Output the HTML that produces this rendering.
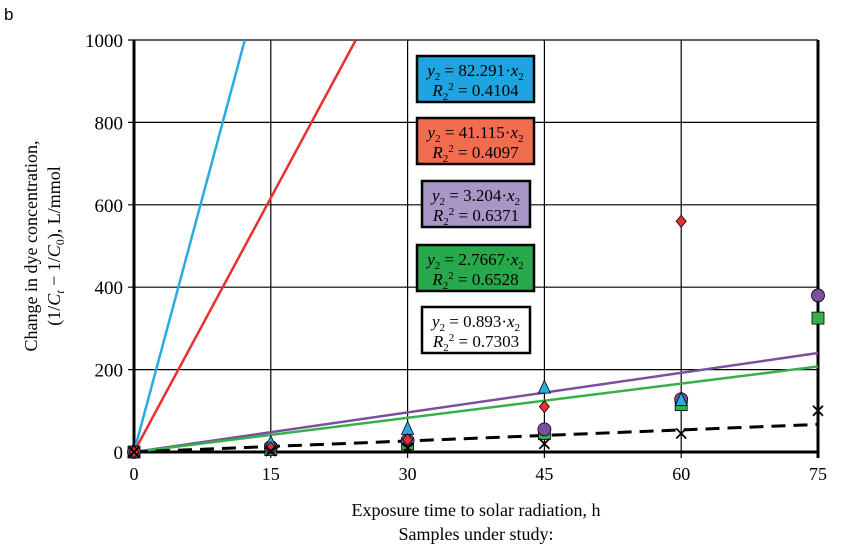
<!DOCTYPE html>
<html><head><meta charset="utf-8">
<style>
html,body{margin:0;padding:0;background:#fff;}
svg{display:block;font-family:"Liberation Serif",serif;}
</style></head>
<body>
<svg id="c" width="847" height="550" viewBox="0 0 847 550">
<text x="4" y="20" font-family="Liberation Sans,sans-serif" font-size="17">b</text>
<g transform="translate(37,246) rotate(-90)">
<text x="0" y="0" text-anchor="middle" font-size="18">Change in dye concentration,</text>
<text x="0" y="23" text-anchor="middle" font-size="18">(1/<tspan font-style="italic">C</tspan><tspan font-style="italic" font-size="12" dy="4">t</tspan><tspan dy="-4"> − 1/</tspan><tspan font-style="italic">C</tspan><tspan font-size="12" dy="4">0</tspan><tspan dy="-4">), L/mmol</tspan></text>
</g>
<text x="476" y="516" text-anchor="middle" font-size="18">Exposure time to solar radiation,  h</text>
<text x="476" y="540" text-anchor="middle" font-size="18">Samples under study:</text>
<g id="grid"></g><g id="lines"></g><g id="marks"></g><g id="boxes"></g>
</svg>
<script>
const xTicks=[0,15,30,45,60,75];
const yTicks=[0,200,400,600,800,1000];
const times=[0,15,30,45,60,75];
const blueVals=[0,20,55,155,125,null];
const redVals=[0,10,30,110,560,null];
const purpleVals=[0,12,28,55,128,380];
const greenVals=[0,6,20,45,115,325];
const blackVals=[0,2,10,20,45,100];
const slopes=[82.291,41.115,3.204,2.7667,0.893];
const r2=["0.4104","0.4097","0.6371","0.6528","0.7303"];
const colors=["#29aae1","#e8312d","#7b4fa0","#36b04a","#000"];
const boxFills=["#1ea4df","#f26c4f","#a796c6","#27a84a","#fff"];
const boxY=[80,142,205,269,331];
const X0=134,X1=818,Y0=452,Y1=40;
const sx=v=>X0+(v-0)/75*(X1-X0);
const sy=v=>Y0-(v/1000)*(Y0-Y1);
const NS="http://www.w3.org/2000/svg";
function mk(tag,attrs,parent){const e=document.createElementNS(NS,tag);for(const k in attrs)e.setAttribute(k,attrs[k]);parent.appendChild(e);return e;}
const grid=document.getElementById('grid'),lines=document.getElementById('lines'),marks=document.getElementById('marks'),boxes=document.getElementById('boxes');
yTicks.forEach(t=>{
 const l=mk('line',{x1:X0-6,x2:X1,y1:sy(t),y2:sy(t),stroke:'#000','stroke-width':t===0?3:1.2},grid);
 
 
 const tx=mk('text',{x:X0-11,y:sy(t)+7,'text-anchor':'end','font-size':19},grid);tx.textContent=t;
 
 
});
xTicks.forEach(t=>{
 const l=mk('line',{x1:sx(t),x2:sx(t),y1:Y1,y2:Y0+6,stroke:'#000','stroke-width':t===0||t===75?3:1.2},grid);
 
 
 const tx=mk('text',{x:sx(t),y:Y0+28,'text-anchor':'middle','font-size':18},grid);tx.textContent=t;
 
 
});
const names=['blue','red','purple','green','black'];
slopes.forEach((s,i)=>{
 let xe=Math.min(75,1000/s);
 const l=mk('line',{x1:sx(0),y1:sy(0),x2:sx(xe),y2:sy(s*xe),stroke:colors[i],'stroke-width':i===4?3:2.5},lines);
 if(i===4)l.setAttribute('stroke-dasharray','14,8');
 
 
});
function drawSeries(vals,kind){
 vals.forEach((v,i)=>{
  if(v===null)return;
  const x=sx(times[i]),y=sy(v);let e;
  if(kind==='tri')e=mk('polygon',{points:`${x},${y-8} ${x-6},${y+5} ${x+6},${y+5}`,fill:'#29aae1',stroke:'#000','stroke-width':0.8},marks);
  else if(kind==='dia')e=mk('polygon',{points:`${x},${y-6} ${x+5},${y} ${x},${y+6} ${x-5},${y}`,fill:'#e8312d',stroke:'#000','stroke-width':0.8},marks);
  else if(kind==='sq')e=mk('rect',{x:x-6,y:y-6,width:12,height:12,fill:'#36b04a',stroke:'#000','stroke-width':0.8},marks);
  else if(kind==='circ')e=mk('circle',{cx:x,cy:y,r:6.5,fill:'#7b4fa0',stroke:'#000','stroke-width':0.8},marks);
  else e=mk('path',{d:`M${x-5},${y-5}L${x+5},${y+5}M${x+5},${y-5}L${x-5},${y+5}`,stroke:'#000','stroke-width':1.8},marks);
  
  
 });
}
drawSeries(greenVals,'sq');drawSeries(purpleVals,'circ');drawSeries(blueVals,'tri');drawSeries(redVals,'dia');drawSeries(blackVals,'x');
slopes.forEach((s,i)=>{
 const w=(i===2||i===4)?108:117, x=i===2||i===4?422:417, y=boxY[i]-24;
 const r=mk('rect',{x:x,y:y,width:w,height:46,fill:boxFills[i],stroke:'#000','stroke-width':2.5},boxes);
 
 
 const t1=mk('text',{x:x+w/2,y:y+20,'text-anchor':'middle','font-size':17},boxes);
 t1.innerHTML=`<tspan font-style="italic">y</tspan><tspan font-size="11" dy="4">2</tspan><tspan dy="-4"> = ${s}·</tspan><tspan font-style="italic">x</tspan><tspan font-size="11" dy="4">2</tspan>`;
 
 
 const t2=mk('text',{x:x+w/2,y:y+40,'text-anchor':'middle','font-size':17},boxes);
 t2.innerHTML=`<tspan font-style="italic">R</tspan><tspan font-size="11" dy="4">2</tspan><tspan font-size="11" dy="-10">2</tspan><tspan dy="6"> = ${r2[i]}</tspan>`;
 
 
});
</script>
</body></html>
